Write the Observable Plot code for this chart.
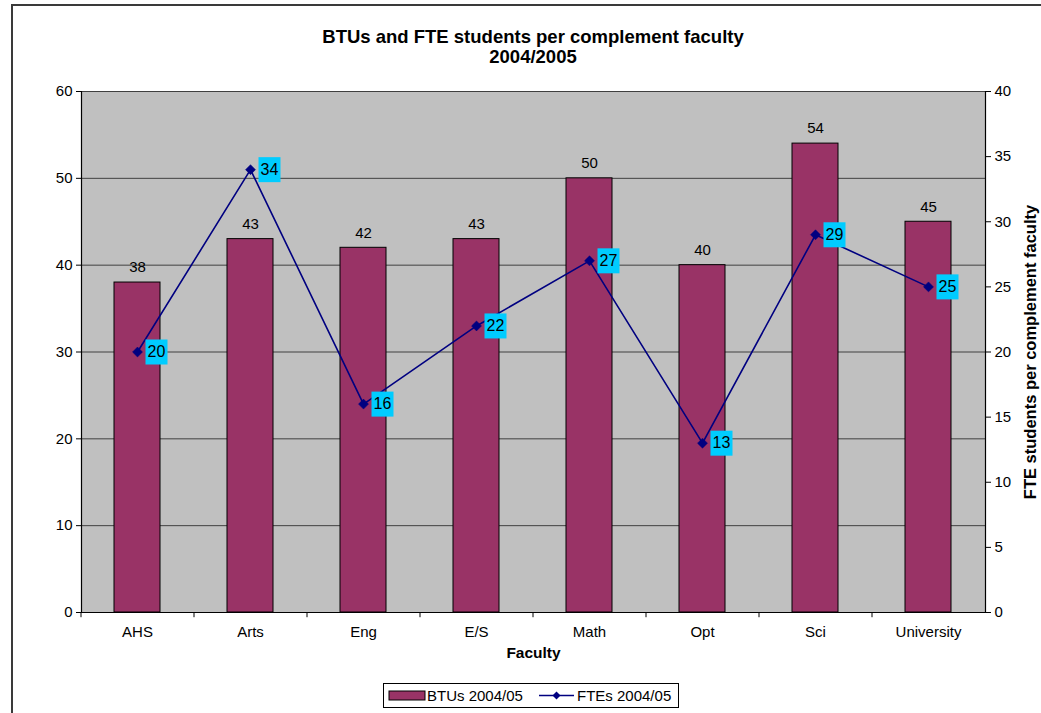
<!DOCTYPE html>
<html>
<head>
<meta charset="utf-8">
<script src="https://cdn.jsdelivr.net/npm/d3@7"></script>
<script src="https://cdn.jsdelivr.net/npm/@observablehq/plot@0.6"></script>
<style>
  html, body { margin: 0; padding: 0; background: #fff; }
  #wrap { position: relative; width: 1041px; height: 713px; overflow: hidden; font-family: "Liberation Sans", Arial, sans-serif; }
  #border { position: absolute; left: 11px; top: 4px; width: 1100px; height: 800px; border-top: 2px solid #3a3a3a; border-left: 2px solid #3a3a3a; }
  #title { position: absolute; left: 0; width: 1066px; top: 27px; text-align: center; font-weight: bold; font-size: 18.5px; line-height: 20px; color: #000; }
  #chart { position: absolute; left: 0; top: 0; }
  #legend { position: absolute; left: 383px; top: 683px; width: 294px; height: 23px; border: 1px solid #000; background: #fff; }
</style>
</head>
<body>
<div id="wrap">
  <div id="border"></div>
  <div id="chart"></div>
  <div id="title">BTUs and FTE students per complement faculty<br>2004/2005</div>
  <div id="legend"></div>
</div>
<script>
const faculties = ["AHS", "Arts", "Eng", "E/S", "Math", "Opt", "Sci", "University"];
const btus = [38, 43, 42, 43, 50, 40, 54, 45];
const ftes = [20, 34, 16, 22, 27, 13, 29, 25];
const leftTicks = [0, 10, 20, 30, 40, 50, 60];
const rightTicks = [0, 5, 10, 15, 20, 25, 30, 35, 40];
const leftMax = 60, rightMax = 40;
const seriesNames = ["BTUs 2004/05", "FTEs 2004/05"];

const k = leftMax / rightMax; // right-axis to left-axis conversion
const rows = faculties.map((f, i) => ({faculty: f, btu: btus[i], fte: ftes[i], fteL: ftes[i] * k}));

const W = 1041, H = 680, mL = 81, mR = 56, mT = 91, mB = 68;
const step = (W - mL - mR) / faculties.length;

const barColor = "#993366", lineColor = "#000080", boxColor = "#00CCFF";
const rectSymbol = {draw(ctx) { ctx.rect(-11, -12.5, 22, 25); }};

const chart = Plot.plot({
  width: W, height: H,
  marginLeft: mL, marginRight: mR, marginTop: mT, marginBottom: mB,
  style: {fontFamily: "'Liberation Sans', Arial, sans-serif", fontSize: "15px", color: "#000", background: "transparent"},
  x: {domain: faculties, paddingInner: 0.59, paddingOuter: 0.295, label: null},
  y: {domain: [0, leftMax], label: null},
  marks: [
    Plot.frame({fill: "#C0C0C0", stroke: "#808080"}),
    Plot.ruleY(leftTicks.filter(d => d > 0), {stroke: "#404040", strokeWidth: 1}),
    Plot.barY(rows, {x: "faculty", y: "btu", fill: barColor, stroke: "#000", strokeWidth: 1}),
    Plot.text(rows, {x: "faculty", y: "btu", text: d => String(d.btu), dy: -15, fontSize: 15, fill: "#000"}),
    Plot.line(rows, {x: "faculty", y: "fteL", stroke: lineColor, strokeWidth: 1.6}),
    Plot.dot(rows, {x: "faculty", y: "fteL", symbol: "diamond2", r: 4.5, fill: lineColor, stroke: lineColor, strokeWidth: 0.5}),
    Plot.dot(rows, {x: "faculty", y: "fteL", symbol: rectSymbol, fill: boxColor, stroke: "none", dx: 19}),
    Plot.text(rows, {x: "faculty", y: "fteL", text: d => String(d.fte), dx: 19, fontSize: 16, fill: "#000"}),
    // axes lines
    Plot.ruleY([0], {stroke: "#000", strokeWidth: 1.2}),
    Plot.ruleX(faculties, {x: d => d, y1: 0, y2: -0.6, dx: -step / 2, stroke: "#000"}),
    Plot.axisX({tickSize: 0, tickPadding: 14, fontSize: 15, label: null}),
    Plot.axisY({anchor: "left", ticks: leftTicks, tickSize: 5, tickPadding: 4, fontSize: 15, label: null}),
    Plot.axisY({anchor: "right", ticks: rightTicks.map(d => d * k), tickFormat: d => String(Math.round(d / k)), tickSize: 5, tickPadding: 4, fontSize: 15, label: null}),
    Plot.frame({anchor: "left", stroke: "#000", strokeWidth: 1.2}),
    Plot.frame({anchor: "right", stroke: "#000", strokeWidth: 1.2}),
    Plot.text(["Faculty"], {frameAnchor: "bottom", dy: 45, fontWeight: "bold", fontSize: 15.5, fill: "#000"}),
    Plot.text(["FTE students per complement faculty"], {frameAnchor: "right", textAnchor: "middle", rotate: -90, dx: 45, fontWeight: "bold", fontSize: 16.5, fill: "#000"})
  ]
});
document.getElementById("chart").appendChild(chart);

// Legend
const lg = d3.select("#legend").append("svg").attr("width", 294).attr("height", 23)
  .style("font-family", "'Liberation Sans', Arial, sans-serif").style("font-size", "15px");
lg.append("rect").attr("x", 5).attr("y", 7).attr("width", 36).attr("height", 9).attr("fill", barColor).attr("stroke", "#000");
lg.append("text").attr("x", 43).attr("y", 17).text(seriesNames[0]);
lg.append("line").attr("x1", 155).attr("x2", 190).attr("y1", 11.5).attr("y2", 11.5).attr("stroke", lineColor).attr("stroke-width", 1.6);
lg.append("path").attr("d", "M172.5,7.5L176.5,11.5L172.5,15.5L168.5,11.5Z").attr("fill", lineColor);
lg.append("text").attr("x", 193).attr("y", 17).text(seriesNames[1]);
</script>
</body>
</html>
